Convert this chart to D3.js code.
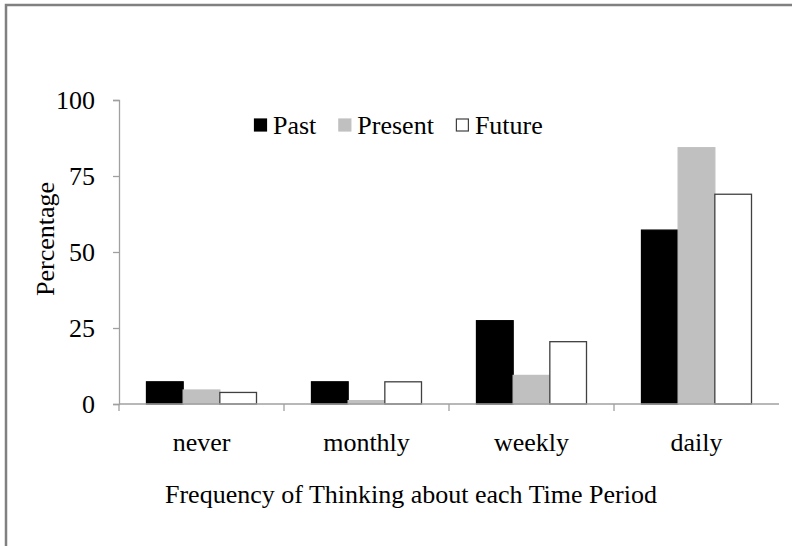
<!DOCTYPE html>
<html>
<head>
<meta charset="utf-8">
<script src="https://cdn.jsdelivr.net/npm/d3@7"></script>
<style>
  body { margin: 0; background: #fff; }
  svg text { font-family: "Liberation Serif", "Times New Roman", serif !important; fill: #000; }
</style>
</head>
<body>
<svg id="chart" width="792" height="546" font-family="Liberation Serif, Times New Roman, serif"></svg>
<script>
// data
let categories = ["never", "monthly", "weekly", "daily"];
let seriesNames = ["Past", "Present", "Future"];
let pastValues = [7.3, 7.3, 27.4, 57.2];
let presentValues = [4.6, 1.1, 9.4, 84.3];
let futureValues = [3.8, 7.3, 20.5, 69.0];
let yTicks = [0, 25, 50, 75, 100];

let seriesValues = {"Past": pastValues, "Present": presentValues, "Future": futureValues};
let fills = {"Past": "#000000", "Present": "#c0c0c0", "Future": "#ffffff"};
let strokes = {"Past": "#000000", "Present": "#c0c0c0", "Future": "#404040"};

let svg = d3.select("#chart");

// outer frame (only top and left edges fall inside the picture)
svg.append("rect")
    .attr("x", 6).attr("y", 5)
    .attr("width", 800).attr("height", 600)
    .style("fill", "none")
    .style("stroke", "#808080")
    .style("stroke-width", 2.5);

let margin = {top: 100, left: 119, right: 13, bottom: 142};
let plotRight = 792 - margin.right,
    plotBottom = 546 - margin.bottom;

let x0 = d3.scaleBand()
    .domain(categories)
    .range([margin.left, plotRight])
    .padding(0);

let x1 = d3.scaleBand()
    .domain(seriesNames)
    .range([0, x0.bandwidth()])
    .paddingInner(0)
    .paddingOuter(0.75);

let y = d3.scaleLinear()
    .domain([0, 100])
    .range([plotBottom, margin.top]);

// bars
let rows = [];
categories.forEach(function(c, i) {
    seriesNames.forEach(function(s) {
        rows.push({cat: c, series: s, value: seriesValues[s][i]});
    });
});

svg.append("g")
    .selectAll("rect")
    .data(rows)
    .enter()
    .append("rect")
    .attr("x", d => x0(d.cat) + x1(d.series))
    .attr("y", d => y(d.value))
    .attr("width", x1.bandwidth())
    .attr("height", d => y(0) - y(d.value))
    .style("fill", d => fills[d.series])
    .style("stroke", d => strokes[d.series])
    .style("stroke-width", 1.3);

// y axis
let yAxis = svg.append("g")
    .attr("transform", `translate(${margin.left},0)`)
    .call(d3.axisLeft(y).tickValues(yTicks).tickSize(6).tickPadding(18));
yAxis.attr("font-family", null).attr("font-size", null);
yAxis.select(".domain").attr("stroke", "#a0a0a0").attr("stroke-width", 1.3);
yAxis.selectAll(".tick line").attr("stroke", "#a0a0a0").attr("stroke-width", 1.3);
yAxis.selectAll(".tick text")
    .style("font-size", "26px")
    .attr("fill", "#000");

// x axis: line plus ticks on the category boundaries
let xAxis = svg.append("g")
    .attr("transform", `translate(0,${plotBottom})`);
xAxis.append("line")
    .attr("x1", margin.left).attr("x2", plotRight)
    .attr("y1", 0).attr("y2", 0)
    .attr("stroke", "#a0a0a0").attr("stroke-width", 1.3);
xAxis.selectAll(".bnd")
    .data(categories.slice(1))
    .enter()
    .append("line")
    .attr("class", "bnd")
    .attr("x1", d => x0(d))
    .attr("x2", d => x0(d))
    .attr("y1", 0).attr("y2", 7)
    .attr("stroke", "#a0a0a0").attr("stroke-width", 1.3);
xAxis.append("line")
    .attr("x1", margin.left).attr("x2", margin.left)
    .attr("y1", 0).attr("y2", 7)
    .attr("stroke", "#a0a0a0").attr("stroke-width", 1.3);
xAxis.selectAll(".cat")
    .data(categories)
    .enter()
    .append("text")
    .attr("class", "cat")
    .attr("x", d => x0(d) + x0.bandwidth() / 2)
    .attr("y", 47)
    .attr("text-anchor", "middle")
    .style("font-size", "26px")
    .text(d => d);

// axis titles
svg.append("text")
    .attr("x", (margin.left + plotRight) / 2 - 38)
    .attr("y", 503)
    .attr("text-anchor", "middle")
    .style("font-size", "26px")
    .text("Frequency of Thinking about each Time Period");

svg.append("text")
    .attr("transform", "translate(54,239) rotate(-90)")
    .attr("text-anchor", "middle")
    .style("font-size", "26px")
    .text("Percentage");

// legend
let legend = svg.append("g").attr("transform", "translate(254,0)");
let lx = 0;
seriesNames.forEach(function(s) {
    let item = legend.append("g").attr("transform", `translate(${lx},0)`);
    item.append("rect")
        .attr("x", 0.5).attr("y", 119)
        .attr("width", 12).attr("height", 12)
        .style("fill", fills[s])
        .style("stroke", strokes[s])
        .style("stroke-width", 1.2);
    let t = item.append("text")
        .attr("x", 19)
        .attr("y", 134)
        .style("font-size", "26px")
        .text(s);
    lx += 19 + t.node().getComputedTextLength() + 22;
});
</script>
</body>
</html>
